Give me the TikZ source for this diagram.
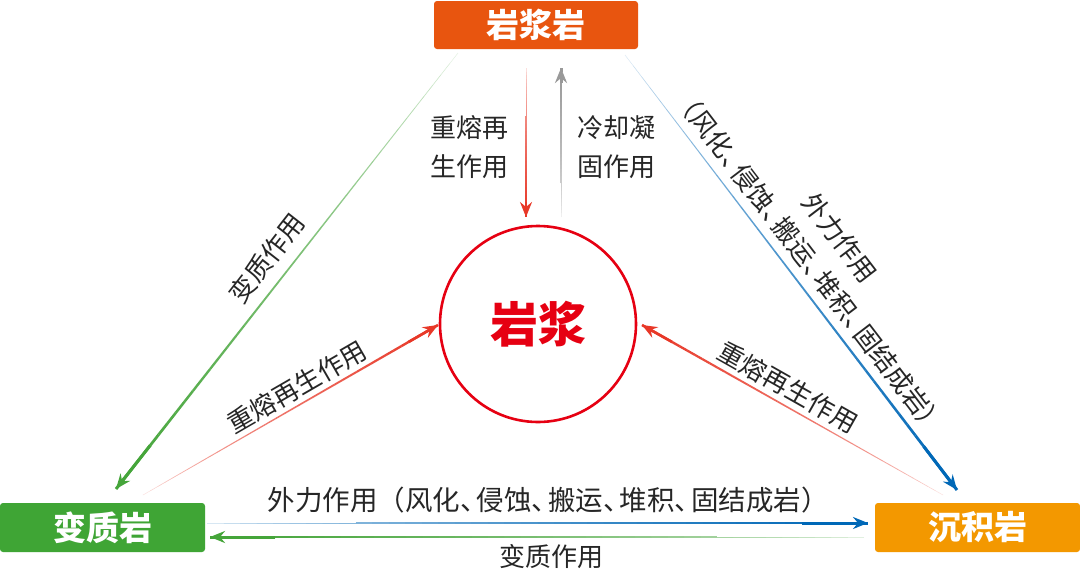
\documentclass[tikz,border=0pt]{standalone}
\usepackage{fontspec}
\setmainfont{Noto Sans CJK SC}
\usetikzlibrary{arrows.meta,calc}
\definecolor{igOrange}{HTML}{E8550F}
\definecolor{metaGreen}{HTML}{3FA535}
\definecolor{sedOrange}{HTML}{F39800}
\definecolor{magRed}{HTML}{E60012}
\definecolor{arRed}{HTML}{E83828}
\definecolor{arBlue}{HTML}{0068B7}
\definecolor{arGreen}{HTML}{45A53A}
\definecolor{arGray}{HTML}{999999}
\newcommand{\dun}{\makebox[0.6em][l]{、}}
\newcommand{\fadearrow}[4]{%
  \foreach \i in {1,...,40}{%
    \pgfmathsetmacro\sA{(\i-1)/40}%
    \pgfmathsetmacro\sB{\i/40}%
    \pgfmathsetmacro\op{sqrt(\i/40)}%
    \pgfmathsetmacro\wd{0.4+(#4-0.4)*\i/40}%
    \draw[#1, line width=\wd pt, draw opacity=\op] ($(#2)!\sA!(#3)$) -- ($(#2)!\sB!(#3)$);
  }
  \draw[#1, line width=#4 pt, -{Stealth[length=15pt,width=12pt,inset=5pt]}] ($(#2)!0.9!(#3)$) -- (#3);
}
\tikzset{
  rockbox/.style={rounded corners=3pt, text=white, font=\fontsize{33}{33}\selectfont\bfseries, inner sep=0pt, minimum height=48pt},
  lbl/.style={font=\fontsize{26}{39}\selectfont, text=black!85, inner sep=0pt, align=center},
}
\begin{document}
\begin{tikzpicture}[x=1pt,y=-1pt]
\useasboundingbox[fill=white] (0,0) rectangle (1080,574);
% rock boxes
\node[rockbox, fill=igOrange, minimum width=204pt] (ig) at (536,25) {岩浆岩};
\node[rockbox, fill=metaGreen, minimum width=205pt, minimum height=49pt] (meta) at (102.5,527.5) {变质岩};
\node[rockbox, fill=sedOrange, minimum width=205pt, minimum height=49pt] (sed) at (977.5,527.5) {沉积岩};
% magma
\node[circle, draw=magRed, line width=2.6pt, minimum size=196pt, inner sep=0pt,
      text=magRed, font=\fontsize{48}{48}\selectfont\bfseries] (mag) at (538,324) {岩浆};
% arrow end points
\coordinate (g1) at (458,53);  \coordinate (g2) at (116,489);
\coordinate (r1) at (143,495); \coordinate (r2) at (438,325);
\coordinate (b1) at (625,55);  \coordinate (b2) at (957,490);
\coordinate (r3) at (943,495); \coordinate (r4) at (642,325);
\coordinate (r5) at (526,68);  \coordinate (r6) at (526,217);
\coordinate (y1) at (561,217); \coordinate (y2) at (561,68);
\coordinate (b3) at (207,523); \coordinate (b4) at (868,523);
\coordinate (g3) at (864,537); \coordinate (g4) at (210,537);
% arrows
\fadearrow{arGreen}{g1}{g2}{3}
\fadearrow{arRed}{r1}{r2}{2.6}
\fadearrow{arBlue}{b1}{b2}{3}
\fadearrow{arRed}{r3}{r4}{2.6}
\fadearrow{arRed}{r5}{r6}{2.2}
\fadearrow{arGray}{y1}{y2}{3}
\fadearrow{arBlue}{b3}{b4}{3}
\fadearrow{arGreen}{g3}{g4}{3}
% labels
\node[lbl] (tl) at (469,147) {重熔再\\生作用};
\node[lbl] (tr) at (616,147) {冷却凝\\固作用};
\node[lbl, rotate=52] (lg) at (267,258) {变质作用};
\node[lbl, rotate=30] (lr) at (297,387) {重熔再生作用};
\node[lbl, rotate=-29.5] (rr) at (788,387) {重熔再生作用};
\node[lbl, rotate=-52.6] (rb1) at (840,238) {外力作用};
\node[lbl, rotate=-52.6] (rb2) at (810,262) {（风化\dun 侵蚀\dun 搬运\dun 堆积\dun 固结成岩）};
\node[lbl, font=\fontsize{27.5}{27.5}\selectfont] (bb) at (548,500) {外力作用（风化\dun 侵蚀\dun 搬运\dun 堆积\dun 固结成岩）};
\node[lbl] (bg) at (551,557) {变质作用};
\end{tikzpicture}
\end{document}
